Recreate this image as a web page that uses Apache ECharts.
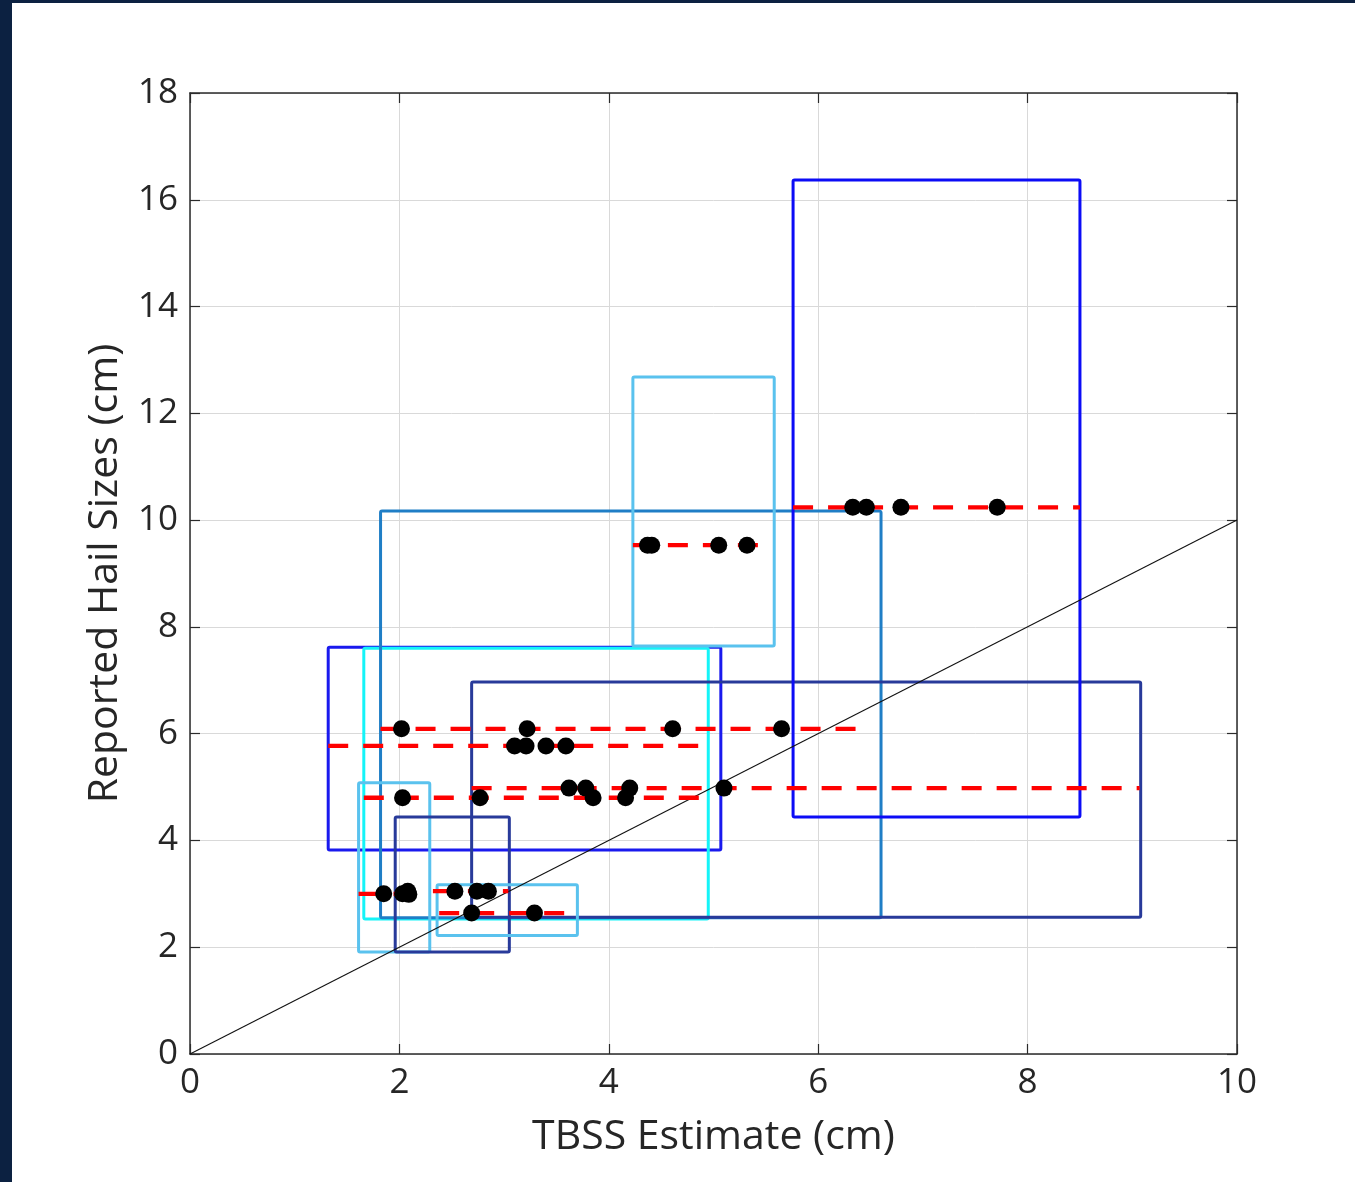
<!DOCTYPE html>
<html>
<head>
<meta charset="utf-8">
<script src="https://cdn.jsdelivr.net/npm/echarts@6/dist/echarts.min.js"></script>
<style>
  html, body { margin: 0; padding: 0; background: #ffffff; }
  #wrap { position: relative; width: 1355px; height: 1182px; background: #ffffff; overflow: hidden; }
  #chart { position: absolute; left: 0; top: 0; width: 1355px; height: 1182px; }
  #barL { position: absolute; left: 0; top: 0; width: 12px; height: 1182px; background: #0c2141; }
  #barT { position: absolute; left: 0; top: 0; width: 1355px; height: 3px; background: #0c2141; }
</style>
</head>
<body>
<div id="wrap">
  <div id="chart"></div>
  <div id="barL"></div>
  <div id="barT"></div>
</div>
<script>
// ---- data ----
// uncertainty boxes (TBSS range on x, reported range on y), in draw order
const boxLeft   = [1.32, 1.66, 1.82, 2.69, 5.76, 4.23, 1.61, 1.96, 2.36];
const boxRight  = [5.07, 4.95, 6.60, 9.08, 8.50, 5.58, 2.29, 3.05, 3.70];
const boxBottom = [3.82, 2.53, 2.55, 2.56, 4.44, 7.64, 1.91, 1.91, 2.22];
const boxTop    = [7.62, 7.60, 10.17, 6.97, 16.37, 12.68, 5.08, 4.44, 3.17];

// reported-size reference lines (dashed red)
const refY  = [10.24, 9.53, 6.09, 5.77, 4.80, 4.98, 3.00, 3.05, 2.64];
const refX0 = [5.76, 4.23, 1.82, 1.32, 1.66, 2.69, 1.61, 2.32, 2.38];
const refX1 = [8.50, 5.43, 6.47, 4.92, 4.92, 9.07, 2.15, 3.04, 3.58];

// individual TBSS estimates vs reported hail size
const tbssX = [6.33, 6.46, 6.79, 7.71,
               4.37, 4.41, 5.05, 5.32,
               2.02, 3.22, 4.61, 5.65,
               3.10, 3.21, 3.40, 3.59,
               2.03, 2.77, 3.85, 4.16,
               3.62, 3.78, 4.20, 5.10,
               1.85, 2.03, 2.08, 2.09,
               2.53, 2.74, 2.85,
               2.69, 3.29];
const reportY = [10.24, 10.24, 10.24, 10.24,
                 9.53, 9.53, 9.53, 9.53,
                 6.09, 6.09, 6.09, 6.09,
                 5.77, 5.77, 5.77, 5.77,
                 4.80, 4.80, 4.80, 4.80,
                 4.98, 4.98, 4.98, 4.98,
                 3.00, 3.00, 3.05, 2.99,
                 3.05, 3.05, 3.05,
                 2.64, 2.64];

// one-to-one line
const diagX = [0, 10];
const diagY = [0, 10];

const xTicks = [0, 2, 4, 6, 8, 10];
const yTicks = [0, 2, 4, 6, 8, 10, 12, 14, 16, 18];

// ---- styles ----
const boxColors = ['#1a1aee', '#14f4f8', '#1f7ec6', '#283a9a', '#0c0cf6', '#5ac2ee', '#5ac2ee', '#283a9a', '#5ac2ee'];
const FONT = '"Open Sans", "DejaVu Sans", sans-serif';
const TXT = '#262626';

const chart = echarts.init(document.getElementById('chart'), null, { renderer: 'canvas' });

const boxData = boxLeft.map((v, i) => [v, boxRight[i], boxBottom[i], boxTop[i]]);
const refData = refY.map((v, i) => [refX0[i], refX1[i], v]);
const ptData = tbssX.map((v, i) => [v, reportY[i]]);
const diagData = diagX.map((v, i) => [v, diagY[i]]);

function axisCommon(showLabel) {
  return {
    axisLine: { show: true, onZero: false, lineStyle: { color: '#2b2b2b', width: 1.5 } },
    axisTick: { show: true, inside: true, length: 10, lineStyle: { color: '#2b2b2b', width: 1.2 } },
    axisLabel: { show: showLabel, fontSize: 35, color: TXT, fontFamily: FONT, margin: 12 },
  };
}

const option = {
  backgroundColor: '#ffffff',
  animation: false,
  grid: { left: 190, right: 118, top: 93, bottom: 128, containLabel: false },
  xAxis: [
    Object.assign({
      type: 'value', min: 0, max: 10, interval: 2, position: 'bottom',
      splitLine: { show: true, lineStyle: { color: '#d9d9d9', width: 1 } },
      name: 'TBSS Estimate (cm)', nameLocation: 'middle', nameGap: 63,
      nameTextStyle: { fontSize: 41, color: TXT, fontFamily: FONT }
    }, axisCommon(true)),
    Object.assign({
      type: 'value', min: 0, max: 10, interval: 2, position: 'top',
      splitLine: { show: false }
    }, axisCommon(false))
  ],
  yAxis: [
    Object.assign({
      type: 'value', min: 0, max: 18, interval: 2, position: 'left',
      splitLine: { show: true, lineStyle: { color: '#d9d9d9', width: 1 } },
      name: 'Reported Hail Sizes (cm)', nameLocation: 'middle', nameGap: 64, nameRotate: 90,
      nameTextStyle: { fontSize: 41, color: TXT, fontFamily: FONT }
    }, axisCommon(true)),
    Object.assign({
      type: 'value', min: 0, max: 18, interval: 2, position: 'right',
      splitLine: { show: false }
    }, axisCommon(false))
  ],
  series: [
    {
      type: 'custom',
      name: 'boxes',
      data: boxData,
      encode: { x: [0, 1], y: [2, 3] },
      z: 2,
      renderItem: function (params, api) {
        const p0 = api.coord([api.value(0), api.value(3)]);
        const p1 = api.coord([api.value(1), api.value(2)]);
        return {
          type: 'rect',
          shape: { x: p0[0], y: p0[1], width: p1[0] - p0[0], height: p1[1] - p0[1], r: 1.5 },
          style: { fill: 'none', stroke: boxColors[params.dataIndex], lineWidth: 3 }
        };
      }
    },
    {
      type: 'line',
      name: 'one-to-one',
      data: diagData,
      showSymbol: false,
      symbol: 'none',
      z: 3,
      lineStyle: { color: '#111111', width: 1.1 }
    },
    {
      type: 'custom',
      name: 'reported',
      data: refData,
      encode: { x: [0, 1], y: 2 },
      z: 4,
      renderItem: function (params, api) {
        const a = api.coord([api.value(0), api.value(2)]);
        const b = api.coord([api.value(1), api.value(2)]);
        return {
          type: 'line',
          shape: { x1: a[0], y1: a[1], x2: b[0], y2: b[1] },
          style: { stroke: '#ff0000', lineWidth: 4.3, lineDash: [20, 15] }
        };
      }
    },
    {
      type: 'scatter',
      name: 'estimates',
      data: ptData,
      symbol: 'circle',
      symbolSize: 17,
      z: 5,
      itemStyle: { color: '#000000', opacity: 1 }
    }
  ]
};

chart.setOption(option);
</script>
</body>
</html>
